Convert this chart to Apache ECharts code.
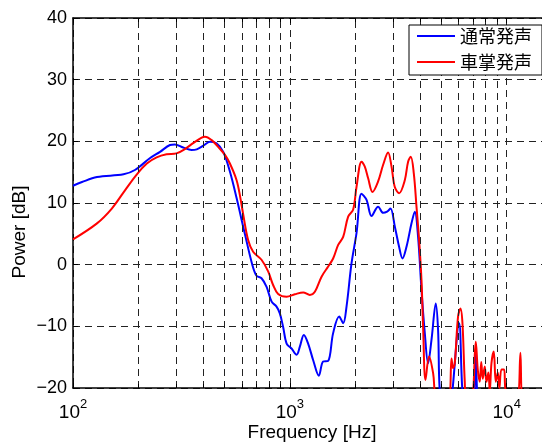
<!DOCTYPE html>
<html><head><meta charset="utf-8">
<script src="https://cdn.jsdelivr.net/npm/echarts@6/dist/echarts.min.js"></script>
<style>html,body{margin:0;padding:0;background:#fff}#c{width:542px;height:443px}</style>
</head><body><div id="c"></div>
<script>
// ---- data ----
const seriesNames = ['通常発声', '車掌発声'];
const normalFreq = [100,110,129,171,193,226,252,280,295,322,352,372,399,428,459,493,529,568,620,671,702,740,781,824,868,899,931,966,1018,1074,1112,1160,1214,1281,1360,1424,1502,1583,1688,1761,1825,1924,2029,2140,2257,2380,2552,2692,2808,2911,3047,3189,3306,3450,3638,3767,3902,4045,4190,4339,4498,4709,4824,4949,5400,5563,6029,6289,6600,7050,7197,7350,7700,16000];
const normalDb = [12.8,13.4,14.2,14.65,15.35,17.25,18.3,19.4,19.5,19.0,18.6,18.7,19.3,19.95,19.7,18.3,15.1,10.8,5.0,0.0,-1.8,-2.2,-3.6,-6.0,-6.8,-7.9,-10.1,-12.8,-13.6,-14.6,-13.3,-11.4,-12.8,-15.5,-18.0,-15.7,-15.6,-11.1,-8.4,-9.5,-6.8,0.2,5.1,11.5,10.5,7.9,9.4,8.4,8.6,9.1,6.2,2.9,1.0,2.9,6.7,8.6,4.5,-4.1,-11.1,-16.0,-12.2,-6.3,-10.6,-22,-24,-22,-9.5,-22,-24,-22,-13.8,-22,-24,-24];
const conductorFreq = [100,129,151,174,197,219,243,270,300,328,358,392,406,436,467,502,529,568,590,609,642,677,740,794,837,883,966,1054,1152,1236,1304,1400,1502,1583,1670,1761,1857,1957,2029,2140,2216,2296,2405,2552,2692,2838,2943,3047,3189,3388,3509,3611,3728,3836,3944,4045,4115,4221,4385,4576,4743,5300,5463,5563,5656,5760,5965,6118,6250,6404,6520,6877,7197,7352,7509,7630,7751,7918,8063,8230,8350,8502,8713,8900,9090,9250,9454,9718,9900,10512,11000,11300,11563,11850,12500,16000];
const conductorDb = [4.1,6.7,9.1,12.1,14.65,16.4,17.4,17.9,18.05,18.75,19.7,20.6,20.75,20.2,19.1,17.8,16.4,13.7,11.0,8.2,4.0,2.1,0.8,-1.1,-3.3,-4.75,-5.2,-4.8,-4.5,-4.9,-4.4,-1.95,-0.3,1.0,3.2,4.5,7.8,8.9,12.6,16.7,15.9,14.0,11.8,13.5,16.2,18.2,15.9,12.6,11.6,13.7,16.7,17.5,14.8,9.4,4.0,-2.5,-10.1,-18.7,-14.9,-17.6,-22,-24,-22,-15.2,-16.8,-16.0,-8.4,-7.1,-9.5,-19,-22,-22,-12.5,-17,-19,-15.8,-18.5,-16.5,-19,-17.5,-20.5,-16,-14.1,-19,-17.5,-20,-17,-17,-20.5,-21,-20.5,-21,-14.3,-21.5,-21.5,-22];
const xRange = [100, 16000];
const yRange = [-20, 40];
const yStep = 10;
const minorFreqs = [200,300,400,500,600,700,800,900,2000,3000,4000,5000,6000,7000,8000,9000];
const xTitle = 'Frequency [Hz]';
const yTitle = 'Power [dB]';

// ---- build ----
const zip = (xs, ys) => xs.map((x, i) => [x, ys[i]]);
const font = 'Liberation Sans';
const gridDash = {color: '#222', width: 1, type: [7, 5]};
const tickLen = 0.65; // in dB units (~4px)

const minorGrid = minorFreqs.map(f => ({xAxis: f}));
const minorTicks = [];
minorFreqs.forEach(f => {
  minorTicks.push([{coord: [f, yRange[0]]}, {coord: [f, yRange[0] + tickLen]}]);
  minorTicks.push([{coord: [f, yRange[1]]}, {coord: [f, yRange[1] - tickLen]}]);
});

const xLabel = v => {
  const e = Math.log10(v);
  if (Math.abs(e - Math.round(e)) > 1e-6) return '';
  return '{b|10}{s|' + Math.round(e) + '}';
};

const chart = echarts.init(document.getElementById('c'), null, {renderer: 'canvas'});
chart.setOption({
  animation: false,
  backgroundColor: '#fff',
  grid: {left: 73, top: 18, right: -9, bottom: 55, containLabel: false, outerBoundsMode: 'none'},
  legend: {
    data: seriesNames,
    orient: 'vertical',
    left: 409, top: 25,
    icon: 'rect',
    itemWidth: 38, itemHeight: 2, itemGap: 6,
    padding: [1, 10, 3, 8],
    borderColor: '#000', borderWidth: 1, backgroundColor: '#fff',
    textStyle: {fontFamily: 'Noto Sans CJK JP', fontSize: 18, color: '#000', lineHeight: 20},
    z: 10
  },
  graphic: [{
    type: 'text', x: 20, y: 232, rotation: Math.PI / 2, silent: true,
    style: {text: yTitle, fontFamily: font, fontSize: 19, fill: '#000', align: 'center', verticalAlign: 'middle'}
  }],
  xAxis: [{
    type: 'log', logBase: 10, min: xRange[0], max: xRange[1],
    name: xTitle, nameLocation: 'middle', nameGap: 35, nameMoveOverlap: false,
    nameTextStyle: {fontFamily: font, fontSize: 19, color: '#000'},
    axisLine: {show: true, onZero: false, lineStyle: {color: '#000', width: 1.5}},
    axisTick: {show: true, inside: true, length: 5, lineStyle: {color: '#000'}},
    axisLabel: {
      margin: 10, formatter: xLabel, color: '#000',
      rich: {
        b: {fontFamily: font, fontSize: 19, color: '#000', lineHeight: 30},
        s: {fontFamily: font, fontSize: 13, color: '#000', verticalAlign: 'top', lineHeight: 13}
      }
    },
    splitLine: {show: true, lineStyle: gridDash}
  }, {
    type: 'log', logBase: 10, min: xRange[0], max: xRange[1], position: 'top',
    axisLine: {show: true, onZero: false, lineStyle: {color: '#000', width: 1.5}},
    axisTick: {show: true, inside: true, length: 5, lineStyle: {color: '#000'}},
    axisLabel: {show: false},
    splitLine: {show: false}
  }],
  yAxis: {
    type: 'value', min: yRange[0], max: yRange[1], interval: yStep,
    axisLine: {show: true, onZero: false, lineStyle: {color: '#000', width: 1.5}},
    axisTick: {show: true, inside: true, length: 5, lineStyle: {color: '#000'}},
    axisLabel: {
      margin: 6, color: '#000', fontFamily: font, fontSize: 18,
      formatter: v => (v < 0 ? '\u2212' + Math.abs(v) : String(v))
    },
    splitLine: {show: true, lineStyle: gridDash}
  },
  series: [{
    type: 'line', name: '_grid', data: [], z: 1, silent: true,
    markLine: {
      silent: true, symbol: ['none', 'none'], label: {show: false},
      lineStyle: gridDash, emphasis: {disabled: true},
      data: minorGrid
    }
  }, {
    type: 'line', name: '_ticks', data: [], z: 1, silent: true,
    markLine: {
      silent: true, symbol: ['none', 'none'], label: {show: false},
      lineStyle: {color: '#000', width: 1, type: 'solid'}, emphasis: {disabled: true},
      data: minorTicks
    }
  }, {
    type: 'line', name: seriesNames[0], data: zip(normalFreq, normalDb),
    symbol: 'none', smooth: 0.35, clip: true, z: 3,
    itemStyle: {color: '#0000ff'},
    lineStyle: {color: '#0000ff', width: 2}
  }, {
    type: 'line', name: seriesNames[1], data: zip(conductorFreq, conductorDb),
    symbol: 'none', smooth: 0.35, clip: true, z: 4,
    itemStyle: {color: '#ff0000'},
    lineStyle: {color: '#ff0000', width: 2}
  }]
});
</script>
</body></html>
